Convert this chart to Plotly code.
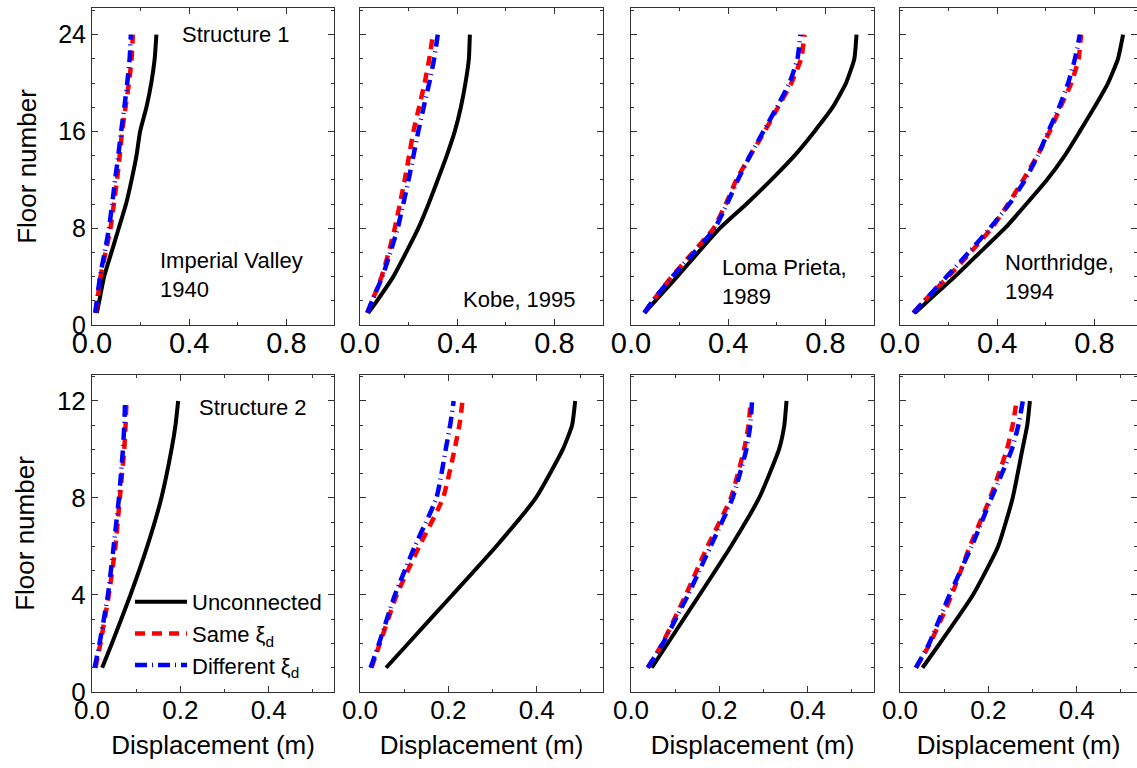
import plotly.graph_objects as go
from plotly.subplots import make_subplots

# ---------------- data ----------------
EARTHQUAKES = ["Imperial Valley 1940", "Kobe, 1995", "Loma Prieta, 1989", "Northridge, 1994"]
SERIES_NAMES = ["Unconnected", "Same ξ<sub>d</sub>", "Different ξ<sub>d</sub>"]

S1_FLOORS = [1, 2, 4, 6, 8, 10, 12, 14, 16, 18, 20, 22, 24]
S2_FLOORS = [1, 2, 4, 6, 8, 10, 11, 12]

# Structure 1 (24 floors) displacement (m)
s1_iv_unconn = [0.020, 0.030, 0.050, 0.080, 0.110, 0.140, 0.163, 0.183, 0.198, 0.224, 0.244, 0.258, 0.265]
s1_iv_same   = [0.015, 0.022, 0.035, 0.056, 0.076, 0.090, 0.103, 0.114, 0.124, 0.138, 0.152, 0.163, 0.168]
s1_iv_diff   = [0.013, 0.020, 0.033, 0.052, 0.070, 0.083, 0.095, 0.108, 0.120, 0.133, 0.145, 0.155, 0.160]

s1_kb_unconn = [0.034, 0.070, 0.137, 0.190, 0.240, 0.282, 0.320, 0.357, 0.390, 0.415, 0.434, 0.448, 0.452]
s1_kb_same   = [0.030, 0.050, 0.089, 0.118, 0.143, 0.164, 0.184, 0.202, 0.220, 0.243, 0.266, 0.285, 0.300]
s1_kb_diff   = [0.030, 0.050, 0.092, 0.125, 0.155, 0.178, 0.200, 0.220, 0.240, 0.262, 0.285, 0.305, 0.320]

s1_lp_unconn = [0.055, 0.100, 0.190, 0.277, 0.366, 0.475, 0.577, 0.673, 0.755, 0.830, 0.885, 0.919, 0.928]
s1_lp_same   = [0.055, 0.090, 0.168, 0.255, 0.340, 0.390, 0.434, 0.490, 0.550, 0.605, 0.660, 0.700, 0.714]
s1_lp_diff   = [0.055, 0.090, 0.170, 0.260, 0.345, 0.395, 0.440, 0.490, 0.545, 0.600, 0.652, 0.685, 0.697]

s1_nr_unconn = [0.062, 0.116, 0.226, 0.329, 0.432, 0.520, 0.605, 0.678, 0.740, 0.800, 0.856, 0.897, 0.918]
s1_nr_same   = [0.055, 0.100, 0.199, 0.290, 0.377, 0.445, 0.507, 0.565, 0.616, 0.660, 0.705, 0.735, 0.745]
s1_nr_diff   = [0.055, 0.100, 0.192, 0.283, 0.370, 0.450, 0.515, 0.567, 0.610, 0.655, 0.692, 0.720, 0.740]

# Structure 2 (12 floors) displacement (m)
s2_iv_unconn = [0.023, 0.045, 0.087, 0.125, 0.157, 0.180, 0.189, 0.195]
s2_iv_same   = [0.008, 0.019, 0.038, 0.053, 0.063, 0.073, 0.076, 0.078]
s2_iv_diff   = [0.006, 0.017, 0.036, 0.049, 0.061, 0.070, 0.073, 0.075]

s2_kb_unconn = [0.059, 0.109, 0.209, 0.308, 0.398, 0.459, 0.480, 0.487]
s2_kb_same   = [0.026, 0.045, 0.083, 0.134, 0.188, 0.214, 0.225, 0.232]
s2_kb_diff   = [0.024, 0.043, 0.079, 0.124, 0.173, 0.194, 0.204, 0.212]

s2_lp_unconn = [0.047, 0.083, 0.155, 0.226, 0.290, 0.335, 0.347, 0.352]
s2_lp_same   = [0.038, 0.071, 0.124, 0.173, 0.226, 0.256, 0.266, 0.271]
s2_lp_diff   = [0.038, 0.072, 0.129, 0.180, 0.230, 0.261, 0.270, 0.274]

s2_nr_unconn = [0.051, 0.090, 0.165, 0.222, 0.255, 0.277, 0.288, 0.294]
s2_nr_same   = [0.036, 0.068, 0.117, 0.158, 0.204, 0.242, 0.255, 0.264]
s2_nr_diff   = [0.036, 0.066, 0.112, 0.162, 0.207, 0.253, 0.268, 0.278]

STRUCT1 = [(s1_iv_unconn, s1_iv_same, s1_iv_diff), (s1_kb_unconn, s1_kb_same, s1_kb_diff),
           (s1_lp_unconn, s1_lp_same, s1_lp_diff), (s1_nr_unconn, s1_nr_same, s1_nr_diff)]
STRUCT2 = [(s2_iv_unconn, s2_iv_same, s2_iv_diff), (s2_kb_unconn, s2_kb_same, s2_kb_diff),
           (s2_lp_unconn, s2_lp_same, s2_lp_diff), (s2_nr_unconn, s2_nr_same, s2_nr_diff)]

# ---------------- styling ----------------
W, H = 1137, 768
FONT = "Liberation Sans, Arial, sans-serif"
LINE_STYLES = [
    dict(color="black", width=4, dash="solid"),
    dict(color="#ff0000", width=4.5, dash="10px,7px"),
    dict(color="#0000ff", width=4.5, dash="12px,5px,1px,5px"),
]

fig = make_subplots(rows=2, cols=4, horizontal_spacing=0.02, vertical_spacing=0.05)

for row, (data, floors) in enumerate([(STRUCT1, S1_FLOORS), (STRUCT2, S2_FLOORS)], start=1):
    for col, triple in enumerate(data, start=1):
        for k, vals in enumerate(triple):
            fig.add_trace(go.Scatter(
                x=vals, y=floors, mode="lines", name=SERIES_NAMES[k],
                line=dict(shape="spline", smoothing=0.5, **LINE_STYLES[k]),
                showlegend=(row == 2 and col == 1),
                hoverinfo="skip"), row=row, col=col)

# pixel-based domains
xcols = [(92, 334), (360, 603), (631, 874), (900, W)]
yrows = {1: (8, 325), 2: (375, 692)}

def xd(a, b):
    return [a / W, b / W]

def yd(top, bot):
    return [1 - bot / H, 1 - top / H]

axis_common = dict(showline=True, linecolor="#333", linewidth=1, mirror="allticks",
                   ticks="inside", showgrid=False, zeroline=False, color="black",
                   automargin=False)

for row in (1, 2):
    for col in range(1, 5):
        idx = (row - 1) * 4 + col
        xa = "xaxis" if idx == 1 else f"xaxis{idx}"
        ya = "yaxis" if idx == 1 else f"yaxis{idx}"
        x0, x1 = xcols[col - 1]
        scale_fac = (x1 - x0) / 243.0
        if row == 1:
            xrange = [0, 1.0 * scale_fac]
            xdtick, xminor = 0.4, 0.2
            yrange, ydtick, yminor = [0, 26.2], 8, 2
            xtf, ytf = 29, 25
            xstand = -8
        else:
            xrange = [0, 0.55 * scale_fac]
            xdtick, xminor = 0.2, 0.1
            yrange, ydtick, yminor = [0, 13.07], 4, 1
            xtf, ytf = 26, 26
            xstand = -5
        fig.layout[xa].update(domain=xd(x0, x1), range=xrange, dtick=xdtick, tick0=0,
                              tickformat=".1f", ticklen=6, tickwidth=1, tickcolor="#333",
                              ticklabelstandoff=xstand,
                              minor=dict(dtick=xminor, ticks="inside", ticklen=3, tickcolor="#333"),
                              tickfont=dict(family=FONT, size=xtf, color="black"),
                              **axis_common)
        fig.layout[ya].update(domain=yd(*yrows[row]), range=yrange, dtick=ydtick, tick0=0,
                              ticklen=6, tickwidth=1, tickcolor="#333",
                              minor=dict(dtick=yminor, ticks="inside", ticklen=3, tickcolor="#333"),
                              showticklabels=(col == 1),
                              tickfont=dict(family=FONT, size=ytf, color="black"),
                              **axis_common)
        if col == 1:
            fig.layout[ya].update(title=dict(text="Floor number", standoff=14,
                                             font=dict(family=FONT, size=26, color="black")))
        if row == 2:
            fig.layout[xa].update(title=dict(text="Displacement (m)", standoff=11,
                                             font=dict(family=FONT, size=26, color="black")))

ann_font = dict(family=FONT, size=22, color="black")
annots = [
    ("x domain", "y domain", 0.593, 0.915, "Structure 1", "center"),
    ("x domain", "y domain", 0.272, 0.158, "Imperial Valley<br>1940", "left"),
    ("x2 domain", "y2 domain", 0.416, 0.079, "Kobe, 1995", "left"),
    ("x3 domain", "y3 domain", 0.366, 0.136, "Loma Prieta,<br>1989", "left"),
    ("x4 domain", "y4 domain", 0.436, 0.151, "Northridge,<br>1994", "left"),
    ("x5 domain", "y5 domain", 0.667, 0.896, "Structure 2", "center"),
]
for xr, yr, x, y, t, al in annots:
    fig.add_annotation(xref=xr, yref=yr, x=x, y=y, text=t, showarrow=False,
                       xanchor=al, yanchor="middle", align=al, font=ann_font)

fig.update_layout(
    width=W, height=H, margin=dict(l=0, r=0, t=0, b=0, autoexpand=False),
    paper_bgcolor="white", plot_bgcolor="white",
    font=dict(family=FONT, color="black"),
    legend=dict(x=130 / W, y=1 - 581 / H, xanchor="left", yanchor="top",
                bgcolor="rgba(0,0,0,0)", itemwidth=52, tracegroupgap=0,
                font=dict(family=FONT, size=22, color="black")),
)

fig.write_html("out.html")
